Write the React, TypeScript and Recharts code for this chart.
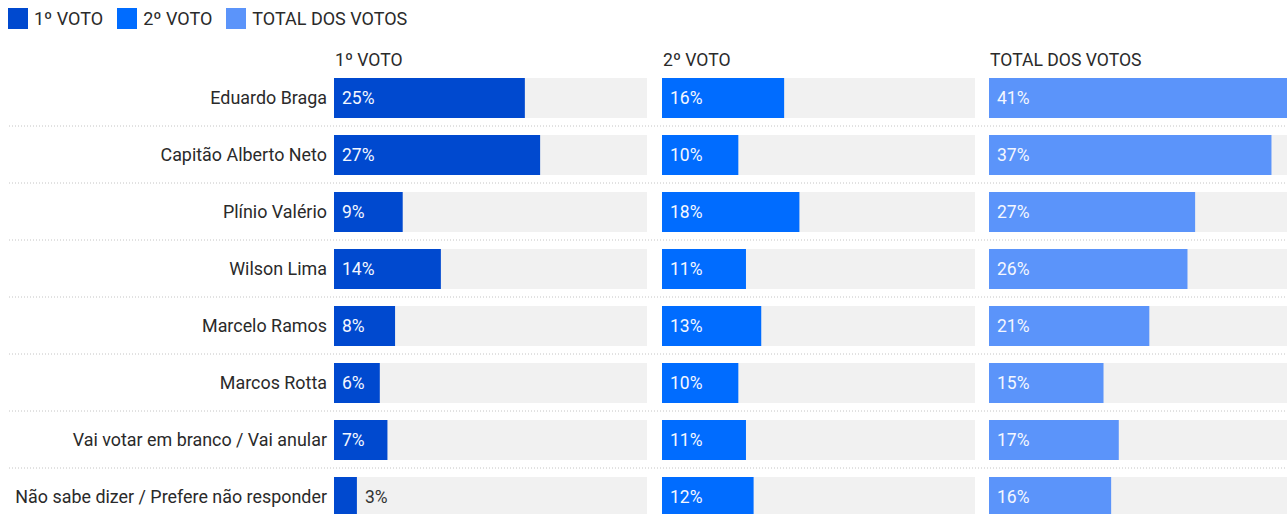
import { BarChart, Bar, XAxis, YAxis, LabelList } from "recharts"

const candidates = [
  "Eduardo Braga",
  "Capitão Alberto Neto",
  "Plínio Valério",
  "Wilson Lima",
  "Marcelo Ramos",
  "Marcos Rotta",
  "Vai votar em branco / Vai anular",
  "Não sabe dizer / Prefere não responder",
]
const firstVote = [25, 27, 9, 14, 8, 6, 7, 3]
const secondVote = [16, 10, 18, 11, 13, 10, 11, 12]
const totalVotes = [41, 37, 27, 26, 21, 15, 17, 16]
const panelTitles = ["1º VOTO", "2º VOTO", "TOTAL DOS VOTOS"]
const panelColors = ["#0049cf", "#006cff", "#5b94fa"]

const FONT = "Roboto, 'Noto Sans', sans-serif"
const ROW = 57
const TOP = 69
const CHART_H = TOP + ROW * candidates.length
const LABEL_W = 334
const PANEL_W = 313
const MAX = 41

function ValueLabel(props: any) {
  const { x, y, width, height, value } = props
  const inside = width > 30
  return (
    <text
      x={inside ? x + 8 : x + width + 8}
      y={y + height / 2}
      dominantBaseline="central"
      fill={inside ? "#f4f7ff" : "#333333"}
      fontSize={17.5}
      fontFamily={FONT}
    >
      {value}%
    </text>
  )
}

function RowTick(props: any) {
  const { x, y, payload, index } = props
  return (
    <g>
      <text x={x} y={y} textAnchor="end" dominantBaseline="central" fill="#2a2a2a" fontSize={17.9} fontFamily={FONT}>
        {payload.value}
      </text>
      {index < candidates.length - 1 && (
        <line x1={9} x2={1300} y1={y + ROW / 2} y2={y + ROW / 2} stroke="#c4c4c4" strokeDasharray="1 2" />
      )}
    </g>
  )
}

function Panel({ values, color, withLabels }: { values: number[]; color: string; withLabels: boolean }) {
  const data = candidates.map((name, i) => ({ name, value: values[i] }))
  return (
    <BarChart
      layout="vertical"
      width={(withLabels ? LABEL_W : 0) + PANEL_W}
      height={CHART_H}
      data={data}
      margin={{ top: TOP, right: 0, bottom: 0, left: 0 }}
      barCategoryGap={8.5}
    >
      <XAxis type="number" domain={[0, MAX]} hide />
      <YAxis
        type="category"
        dataKey="name"
        width={withLabels ? LABEL_W : 0}
        hide={!withLabels}
        axisLine={false}
        tickLine={false}
        tickSize={0}
        tickMargin={7}
        interval={0}
        tick={<RowTick />}
      />
      <Bar dataKey="value" fill={color} barSize={40} background={{ fill: "#f1f1f1" }} isAnimationActive={false}>
        <LabelList dataKey="value" content={<ValueLabel />} />
      </Bar>
    </BarChart>
  )
}

export default function App() {
  const series = [firstVote, secondVote, totalVotes]
  const lefts = [0, 662, 989]
  const titleLefts = [LABEL_W, 662, 989]
  return (
    <div style={{ position: "relative", width: 1287, height: 514, overflow: "hidden", fontFamily: FONT, color: "#2a2a2a" }}>
      <style>{"body{margin:0} .recharts-surface{overflow:visible}"}</style>
      <div style={{ position: "absolute", left: 8, top: 8, display: "flex", alignItems: "center", fontSize: 18, lineHeight: "21px" }}>
        {panelTitles.map((t, i) => (
          <div key={t} style={{ display: "flex", alignItems: "center", marginRight: 14 }}>
            <span style={{ width: 20, height: 21, background: panelColors[i], marginRight: 6, display: "inline-block" }} />
            <span>{t}</span>
          </div>
        ))}
      </div>
      {panelTitles.map((t, i) => (
        <div key={t} style={{ position: "absolute", left: titleLefts[i] + 1, top: 50, fontSize: 17.6, lineHeight: "21px" }}>
          {t}
        </div>
      ))}
      {series.map((vals, i) => (
        <div key={i} style={{ position: "absolute", left: lefts[i], top: 0 }}>
          <Panel values={vals} color={panelColors[i]} withLabels={i === 0} />
        </div>
      ))}
    </div>
  )
}
